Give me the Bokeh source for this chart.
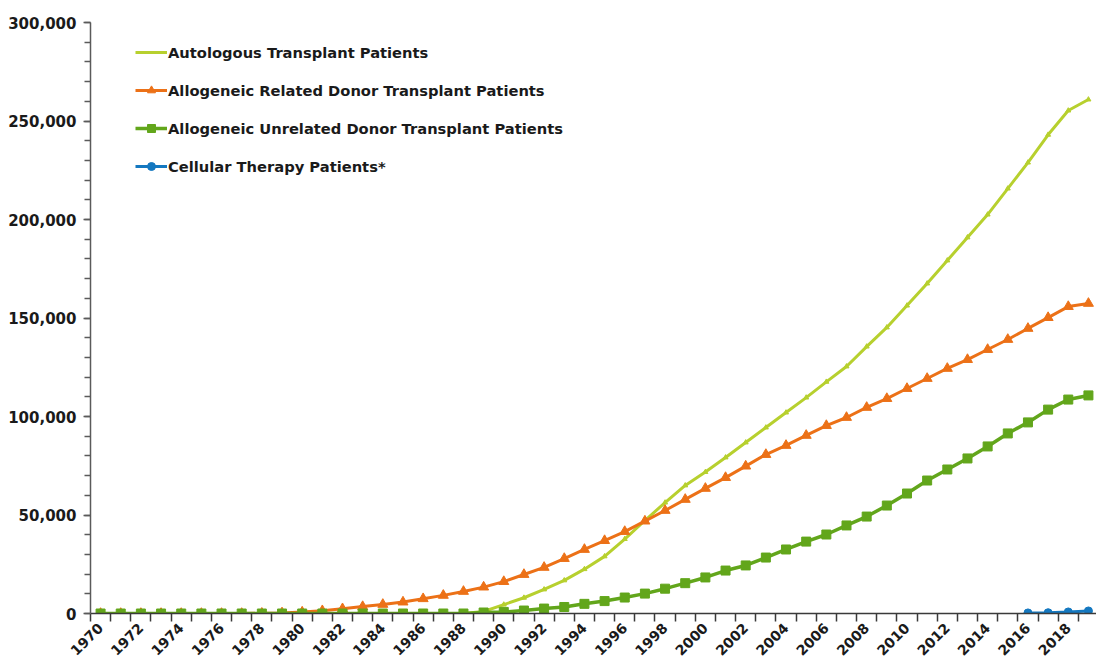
import math
from bokeh.plotting import figure
from bokeh.models import (ColumnDataSource, FixedTicker, SingleIntervalTicker, NumeralTickFormatter,
                          Legend, LegendItem, Range1d)
from bokeh.embed import file_html
from bokeh.resources import INLINE

years = list(range(1970, 2020))

autologous = [0] * 19 + [
    1000, 4500, 8000, 12200, 16800, 22500, 29000, 37800, 47200, 56300,
    65000, 71800, 79200, 86800, 94400, 102000, 109600, 117600, 125400, 135500,
    145200, 156300, 167500, 179200, 190900, 202500, 215700, 228900, 243000, 255300,
    260900]

related = [0] * 8 + [
    100, 300, 700, 1400, 2400, 3500, 4600, 5800, 7500, 9200,
    11200, 13400, 16200, 19800, 23400, 27900, 32500, 37000, 41600, 46900,
    52300, 57900, 63500, 69000, 74800, 80700, 85300, 90400, 95400, 99500,
    104600, 109100, 114200, 119300, 124400, 128900, 134000, 139100, 144700, 150200,
    155800, 157400]

unrelated = [0] * 19 + [
    500, 800, 1500, 2500, 3300, 4900, 6300, 8100, 10100, 12600,
    15400, 18300, 21800, 24400, 28400, 32500, 36500, 40100, 44700, 49200,
    54800, 60900, 67500, 73100, 78700, 84800, 91400, 97000, 103500, 108600,
    110700]

cell_years = [2016, 2017, 2018, 2019]
cellular = [300, 400, 800, 1300]

labels = ["Autologous Transplant Patients",
          "Allogeneic Related Donor Transplant Patients",
          "Allogeneic Unrelated Donor Transplant Patients",
          "Cellular Therapy Patients*"]

label_years = [y for y in years if (y - 1970) % 2 == 0]

C_AUTO = "#B7D02E"
C_REL = "#EC7117"
C_UNR = "#62A61B"
C_CELL = "#1478C0"

FONT = "DejaVu Sans"
TXT = "#1a1a1a"

p = figure(width=1096, height=664, output_backend="svg", toolbar_location=None,
           x_range=Range1d(1969.5, 2019.4), y_range=Range1d(0, 300000),
           min_border_left=90, min_border_top=22, min_border_bottom=51, min_border_right=0)
p.outline_line_color = None
p.xgrid.grid_line_color = None
p.ygrid.grid_line_color = None

src = ColumnDataSource(dict(x=years, a=autologous, r=related, u=unrelated))
csrc = ColumnDataSource(dict(x=cell_years, c=cellular))

la = p.line("x", "a", source=src, line_color=C_AUTO, line_width=3)
sa = p.scatter("x", "a", source=src, marker="triangle", size=5, fill_color=C_AUTO, line_color=C_AUTO)
lr = p.line("x", "r", source=src, line_color=C_REL, line_width=3)
sr = p.scatter("x", "r", source=src, marker="triangle", size=10, fill_color=C_REL, line_color=C_REL)
lu = p.line("x", "u", source=src, line_color=C_UNR, line_width=3.5)
su = p.scatter("x", "u", source=src, marker="square", size=9, fill_color=C_UNR, line_color=C_UNR)
lc = p.line("x", "c", source=csrc, line_color=C_CELL, line_width=3)
sc = p.scatter("x", "c", source=csrc, marker="circle", size=8, fill_color=C_CELL, line_color=C_CELL)

legend = Legend(items=[
    LegendItem(label=labels[0], renderers=[la]),
    LegendItem(label=labels[1], renderers=[lr, sr]),
    LegendItem(label=labels[2], renderers=[lu, su]),
    LegendItem(label=labels[3], renderers=[lc, sc]),
], location=(45, 437))
legend.border_line_color = None
legend.background_fill_alpha = 0
legend.padding = 5
legend.margin = 0
legend.spacing = 18
legend.glyph_width = 32
legend.glyph_height = 20
legend.label_height = 20
legend.label_standoff = 1
legend.label_text_font = FONT
legend.label_text_font_style = "bold"
legend.label_text_font_size = "14.7px"
legend.label_text_color = TXT
p.add_layout(legend)

# y axis
yax = p.yaxis[0]
yax.ticker = SingleIntervalTicker(interval=50000, num_minor_ticks=5)
yax.formatter = NumeralTickFormatter(format="0,0")
yax.axis_line_color = "#5a5a5a"
yax.axis_line_width = 1.5
yax.major_tick_line_color = "#5a5a5a"
yax.minor_tick_line_color = "#5a5a5a"
yax.major_tick_in = 0
yax.major_tick_out = 7
yax.minor_tick_in = 0
yax.minor_tick_out = 6
yax.major_tick_line_width = 1.5
yax.minor_tick_line_width = 1.5
yax.major_label_standoff = 7
yax.major_label_text_font = FONT
yax.major_label_text_font_style = "bold"
yax.major_label_text_font_size = "15px"
yax.major_label_text_color = TXT

# x axis
xax = p.xaxis[0]
xax.ticker = FixedTicker(ticks=label_years, minor_ticks=[1969.5 + i for i in range(51)])
xax.major_label_overrides = {y: str(y) for y in label_years}
xax.axis_line_color = "#3a3a3a"
xax.axis_line_width = 1.5
xax.major_tick_line_color = None
xax.major_tick_in = 0
xax.major_tick_out = 8
xax.minor_tick_line_color = "#3a3a3a"
xax.minor_tick_line_width = 1.5
xax.minor_tick_in = 0
xax.minor_tick_out = 8
xax.major_label_standoff = 4
xax.major_label_orientation = math.pi / 4
xax.major_label_text_font = FONT
xax.major_label_text_font_style = "bold"
xax.major_label_text_font_size = "14px"
xax.major_label_text_color = TXT

open("out.html", "w").write(file_html(p, INLINE))
